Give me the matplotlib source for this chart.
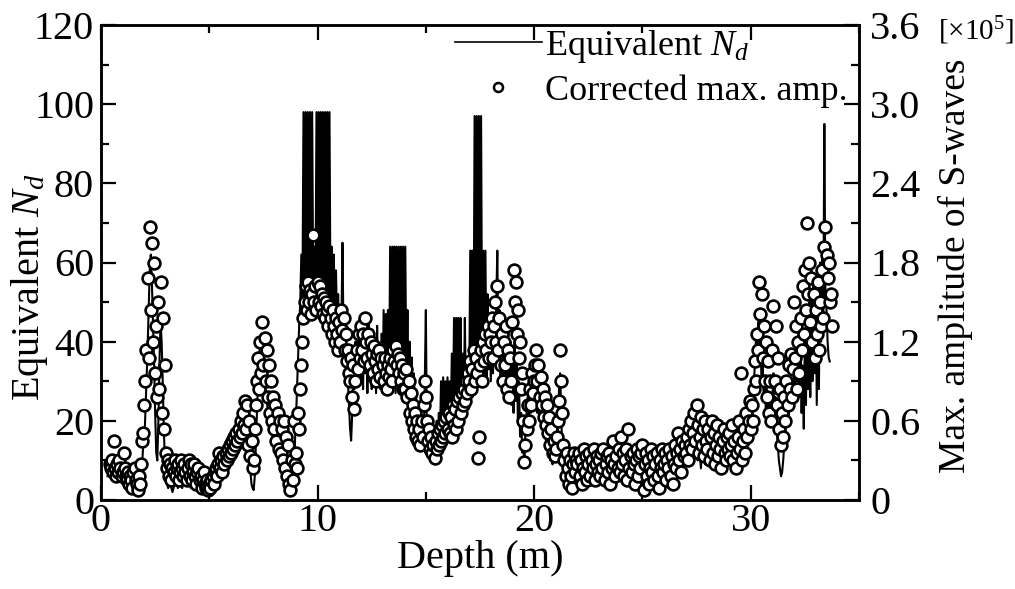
import numpy as np
import matplotlib
matplotlib.use('Agg')
import matplotlib.pyplot as plt
from matplotlib.ticker import MultipleLocator, FixedLocator, FixedFormatter
from matplotlib.lines import Line2D

plt.rcParams['font.family'] = ['Liberation Serif', 'DejaVu Serif']
plt.rcParams['mathtext.fontset'] = 'custom'
plt.rcParams['mathtext.rm'] = 'Liberation Serif'
plt.rcParams['mathtext.it'] = 'Liberation Serif:italic'

# depth sampling (m): 0.00, 0.05, ... 33.95, one row below = one metre
depth = np.round(np.arange(0, 34, 0.05), 2)
nan = np.nan

# Equivalent N_d (line)
equiv_nd = [
    nan, nan, nan, nan, nan, nan, 6, 7, 8, 7, 6, 7, 8, 6, 5, 7, 8, 6, 7, 5,                  # 0
    7, 6, 5, 4, 5, 6, 4, 3, 4, 5, 3, 2, 3, 4, 3, 2, 4, 6, 9, 14,                             # 1
    15, 22, 30, 38, 48, 58, 62, 55, 45, 35, 22, 12, 10, 20, 35, 45, 40, 30, 18, 10,          # 2
    6, 4, 3, 4, 5, 3, 2, 3, 4, 5, 4, 3, 5, 6, 4, 3, 5, 6, 5, 4,                              # 3
    5, 6, 4, 3, 5, 6, 5, 4, 3, 4, 5, 3, 2, 3, 4, 3, 2, 1, 2, 1,                              # 4
    1, 2, 3, 2, 3, 4, 5, 4, 6, 5, 7, 6, 8, 7, 6, 8, 9, 7, 8, 10,                             # 5
    9, 11, 10, 12, 11, 13, 12, 14, 13, 15, 17, 19, 21, 23, 22, 20, 16, 12, 7, 4,             # 6
    3, 2.5, 6, 14, 22, 30, 36, 40, 42, 38, 34, 30, 28, 25, 23, 21, 19, 20, 17, 15,           # 7
    16, 14, 12, 13, 11, 10, 12, 9, 8, 10, 7, 8, 6, 5, 7, 4, 3, 5, 8, 14,                     # 8
    20, 28, 36, 44, 50, 62, 50, 98, 48, 98, 50, 98, 47, 98, 50, 98, 52, 64, 50, 98,          # 9
    48, 98, 50, 98, 46, 98, 52, 98, 48, 98, 50, 98, 47, 64, 50, 62, 46, 58, 44, 52,          # 10
    42, 48, 44, 65, 40, 44, 36, 38, 30, 24, 18, 15, 22, 35, 28, 40, 30, 44, 32, 46,          # 11
    30, 46, 28, 44, 32, 42, 27, 45, 30, 40, 28, 43, 33, 40, 27, 44, 30, 38, 28, 42,          # 12
    27, 48, 28, 47, 30, 48, 27, 64, 28, 64, 30, 64, 27, 64, 29, 64, 28, 64, 30, 64,          # 13
    28, 64, 30, 48, 26, 40, 24, 36, 22, 32, 20, 26, 18, 24, 16, 22, 15, 20, 14, 30,          # 14
    48, 14, 20, 12, 18, 11, 17, 12, 18, 13, 20, 14, 22, 15, 30, 16, 31, 17, 30, 18,          # 15
    31, 18, 30, 20, 37, 19, 46, 21, 46, 22, 46, 20, 46, 23, 37, 22, 46, 25, 30, 26,          # 16
    28, 63, 27, 63, 30, 97, 28, 97, 32, 97, 30, 97, 33, 63, 32, 63, 30, 52, 33, 45,          # 17
    30, 45, 32, 42, 35, 50, 63, 34, 48, 30, 44, 28, 40, 26, 42, 30, 45, 28, 40, 24,          # 18
    38, 22, 40, 25, 35, 20, 30, 16, 22, 12, 14, 9, 18, 22, 26, 20, 28, 22, 30, 24,           # 19
    32, 25, 30, 22, 28, 20, 26, 18, 24, 16, 22, 14, 18, 12, 16, 10, 12, 9, 14, 10,           # 20
    12, 15, 20, 28, 32, 22, 12, 8, 6, 5, 4, 6, 3, 5, 4, 7, 5, 6, 8, 5,                       # 21
    7, 5, 9, 6, 8, 10, 6, 4, 8, 11, 7, 5, 9, 12, 8, 6, 10, 7, 5, 8,                          # 22
    9, 6, 11, 8, 5, 7, 10, 6, 9, 12, 7, 5, 8, 10, 6, 9, 11, 7, 5, 8,                         # 23
    10, 6, 8, 12, 7, 4, 9, 11, 6, 8, 10, 5, 7, 9, 12, 6, 8, 5, 10, 7,                        # 24
    4, 8, 6, 10, 7, 3, 6, 9, 5, 8, 11, 7, 4, 8, 10, 6, 9, 5, 7, 11,                          # 25
    8, 5, 9, 6, 3, 7, 10, 6, 4, 8, 11, 7, 9, 12, 8, 10, 13, 9, 7, 11,                        # 26
    12, 9, 14, 10, 16, 12, 18, 13, 15, 20, 14, 10, 16, 12, 8, 14, 17, 11, 9, 13,             # 27
    15, 11, 17, 13, 9, 12, 16, 10, 14, 18, 12, 8, 13, 15, 10, 12, 16, 9, 11, 14,             # 28
    12, 9, 14, 10, 8, 11, 13, 9, 12, 15, 10, 8, 12, 14, 11, 16, 18, 14, 20, 17,              # 29
    22, 18, 26, 30, 35, 42, 38, 45, 36, 40, 30, 34, 26, 30, 22, 28, 24, 20, 26, 22,          # 30
    26, 32, 22, 26, 18, 14, 10, 8, 6, 7, 10, 14, 18, 22, 26, 20, 28, 24, 30, 26,             # 31
    36, 28, 40, 30, 44, 26, 38, 22, 34, 18, 40, 24, 46, 28, 50, 26, 52, 30, 55, 32,          # 32
    56, 24, 58, 28, 60, 40, 62, 44, 95, 50, 48, 40, 36, 35, nan, nan, nan, nan, nan, nan,    # 33
]

# Corrected max. amplitude of S-waves, read on the left scale (120 <-> 3.6e5)
amp_read = [
    nan, nan, nan, nan, nan, nan, nan, nan, 9, 8, 10, 7, 15, 8, 6, 9, 7, 10, 8, 6,           # 0
    7, 12, 8, 6, 5, 7, 4, 6, 5, 3, 7, 8, 5, 4, 2.5, 6, 4, 9, 15, 17,                          # 1
    24, 30, 38, 56, 36, 69, 48, 65, 40, 60, 32, 44, 26, 50, 28, 55, 22, 46, 18, 34,          # 2
    12, 8, 10, 6, 9, 5, 8, 7, 10, 6, 8, 9, 5, 7, 10, 8, 6, 9, 7, 5,                          # 3
    8, 10, 6, 9, 5, 7, 9, 6, 4, 7, 8, 5, 6, 3, 5, 7, 4, 3, 5, 2.5,                           # 4
    4, 3, 5, 6, 4, 7, 8, 6, 9, 12, 8, 10, 7, 11, 9, 12, 10, 13, 11, 14,                      # 5
    12, 15, 13, 16, 14, 17, 15, 18, 16, 20, 17, 22, 19, 25, 18, 24, 14, 20, 11, 15,          # 6
    8, 10, 18, 24, 30, 36, 28, 40, 32, 45, 34, 41, 30, 38, 26, 34, 22, 30, 20, 26,           # 7
    18, 24, 15, 22, 13, 20, 12, 18, 10, 20, 8, 16, 6, 14, 4, 2.5, 10, 5, 20, 9,              # 8
    12, 8, 22, 18, 28, 34, 40, 46, 50, 54, 48, 55, 50, 53, 47, 52, 67, 50, 54, 48,           # 9
    55, 50, 54, 49, 52, 47, 51, 46, 50, 48, 44, 49, 46, 42, 48, 44, 40, 46, 42, 38,          # 10
    45, 40, 48, 43, 46, 38, 42, 35, 38, 32, 30, 36, 26, 34, 23, 30, 38, 33, 42, 36,          # 11
    44, 38, 42, 35, 46, 40, 36, 42, 34, 40, 37, 32, 39, 35, 30, 37, 33, 38, 31, 36,          # 12
    34, 30, 36, 32, 28, 34, 31, 36, 33, 30, 38, 35, 39, 34, 37, 32, 36, 30, 34, 28,          # 13
    32, 28, 33, 26, 30, 22, 27, 20, 24, 18, 22, 16, 20, 15, 18, 14, 20, 16, 24, 30,          # 14
    26, 20, 15, 18, 13, 16, 12, 14, 10.5, 15, 13, 17, 14, 18, 15, 19, 16, 20, 17, 21,        # 15
    18, 22, 17, 21, 16, 24, 19, 23, 18, 25, 20, 26, 22, 27, 24, 28, 25, 30, 27, 32,          # 16
    30, 35, 28, 33, 38, 30, 36, 32, 10.5, 16, 34, 38, 30, 40, 35, 42, 38, 44, 36, 42,        # 17
    40, 46, 36, 44, 50, 40, 54, 38, 46, 34, 42, 30, 40, 34, 44, 28, 38, 26, 36, 30,          # 18
    45, 58, 50, 55, 42, 48, 36, 40, 28, 32, 20, 9.5, 14, 18, 24, 20, 28, 24, 32, 27,         # 19
    30, 34, 38, 30, 34, 26, 31, 24, 28, 21, 26, 19, 24, 17, 21, 14, 18, 12, 15, 11,          # 20
    13, 16, 20, 25, 38, 30, 22, 14, 10, 6, 12, 8, 4, 10, 6, 3, 9, 12, 7, 10,                 # 21
    9, 12, 6, 10, 4, 8, 13, 7, 11, 5, 9, 12, 6, 10, 8, 13, 5, 9, 11, 7,                      # 22
    10, 6, 12, 8, 13, 5, 9, 11, 7, 12, 4, 10, 8, 15, 9, 6, 11, 8, 13, 7,                     # 23
    16, 9, 12, 6, 10, 13, 5, 18, 8, 11, 7, 12, 9, 4, 10, 13, 6, 11, 8, 12,                   # 24
    14, 2.5, 9, 12, 6, 10, 4, 8, 13, 7, 11, 5, 9, 12, 6, 3, 10, 8, 13, 7,                    # 25
    9, 12, 5, 10, 8, 13, 6, 11, 4, 9, 14, 8, 12, 17, 10, 13, 7, 15, 11, 14,                  # 26
    12, 16, 10, 18, 14, 20, 13, 17, 22, 15, 24, 19, 12, 16, 21, 14, 18, 11, 20, 15,          # 27
    13, 18, 10, 16, 20, 12, 17, 9, 14, 19, 11, 16, 13, 8, 15, 18, 12, 10, 16, 13,            # 28
    17, 11, 14, 19, 10, 15, 8, 12, 16, 20, 13, 32, 10, 15, 18, 12, 22, 16, 20, 25,           # 29
    18, 24, 20, 28, 35, 30, 42, 38, 55, 47, 52, 36, 44, 30, 40, 26, 35, 22, 30, 20,          # 30
    38, 49, 30, 44, 24, 36, 18, 28, 14, 22, 16, 26, 20, 30, 24, 34, 28, 37, 26, 33,          # 31
    50, 36, 44, 28, 40, 32, 46, 38, 54, 42, 58, 48, 70, 52, 60, 45, 56, 40, 52, 36,          # 32
    48, 42, 55, 38, 50, 44, 58, 46, 64, 69, 62, 56, 60, 50, 52, 44, nan, nan, nan, nan,      # 33
]

# convert the read values to the right-axis unit (x10^5)
max_amp = np.array(amp_read, dtype=float) * 3.6 / 120

left_ticks = [0, 20, 40, 60, 80, 100, 120]
right_ticks = [0, 0.6, 1.2, 1.8, 2.4, 3.0, 3.6]
right_labels = ['0', '0.6', '1.2', '1.8', '2.4', '3.0', '3.6']
x_ticks = [0, 10, 20, 30]

fig = plt.figure(figsize=(10.15, 5.89), dpi=100)
ax = fig.add_axes([101 / 1015, 1 - 500 / 589, 758 / 1015, 475 / 589])
ax2 = ax.twinx()

ax.plot(depth, equiv_nd, color='black', lw=1.5)
ax2.plot(depth, max_amp, 'o', ms=8.5, mfc='white', mec='black', mew=1.9, ls='none')

ax.set_xlim(0, 35)
ax.set_ylim(0, 120)
ax2.set_ylim(0, 3.6)

ax.xaxis.set_major_locator(FixedLocator(x_ticks))
ax.xaxis.set_minor_locator(MultipleLocator(5))
ax.yaxis.set_major_locator(FixedLocator(left_ticks))
ax.yaxis.set_minor_locator(MultipleLocator(10))
ax2.yaxis.set_major_locator(FixedLocator(right_ticks))
ax2.yaxis.set_major_formatter(FixedFormatter(right_labels))
ax2.yaxis.set_minor_locator(MultipleLocator(0.3))

fs = 29
ax.tick_params(which='both', direction='in', top=True, right=False, width=1.6, labelsize=fs)
ax.tick_params(axis='y', pad=5)
ax.tick_params(axis='x', pad=2)
ax.tick_params(which='major', length=11)
ax.tick_params(which='minor', length=6)
ax2.tick_params(which='both', direction='in', width=1.6, labelsize=fs, pad=8)
ax2.tick_params(which='major', length=11)
ax2.tick_params(which='minor', length=6)
for a in (ax, ax2):
    for s in a.spines.values():
        s.set_linewidth(1.8)

ax.set_xlabel('Depth (m)', fontsize=fs, labelpad=0)
fig.text(30 / 1015, 1 - 287 / 589, 'Equivalent $N_d$', fontsize=29, rotation=90,
         ha='center', va='center')
fig.text(955 / 1015, 1 - 266 / 589, 'Max. amplitude of S-waves', fontsize=27, rotation=90,
         ha='center', va='center')
fig.text(938 / 1015, 1 - 31 / 589, r'[$\times$10$^5$]', fontsize=21, ha='left', va='center')

handles = [Line2D([], [], color='black', lw=1.2),
           Line2D([], [], marker='o', ls='none', ms=6.5, mfc='white', mec='black', mew=1.8)]
fig.legend(handles, ['Equivalent $N_d$', 'Corrected max. amp.'], loc='upper left',
           bbox_to_anchor=(455 / 1015, 1 - 28 / 589), frameon=False, fontsize=26,
           handlelength=2.4, handletextpad=0.1, labelspacing=0.25, borderpad=0, borderaxespad=0)

fig.savefig('out.png', dpi=100)
